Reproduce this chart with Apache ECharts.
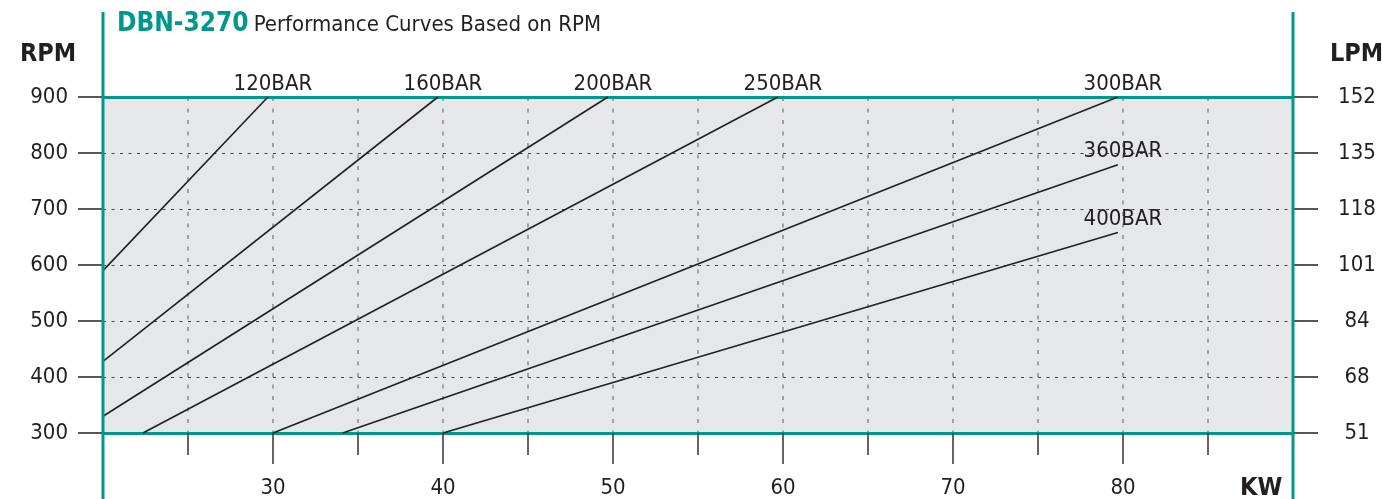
<!DOCTYPE html>
<html>
<head>
<meta charset="utf-8">
<script src="https://cdn.jsdelivr.net/npm/echarts@6/dist/echarts.min.js"></script>
<style>
html,body{margin:0;padding:0;background:#fff;}
#chart{width:1382px;height:499px;}
</style>
</head>
<body>
<div id="chart"></div>
<script>
// ---- data ----
const seriesNames = ['120BAR','160BAR','200BAR','250BAR','300BAR','360BAR','400BAR'];
const bar120 = [[20,590],[29.7,900]];
const bar160 = [[20,428],[39.7,900]];
const bar200 = [[20,330],[49.7,900]];
const bar250 = [[22.35,300],[59.7,900]];
const bar300 = [[30,300],[79.7,900]];
const bar360 = [[34.1,300],[79.7,779]];
const bar400 = [[40,300],[79.7,658]];
const seriesData = [bar120,bar160,bar200,bar250,bar300,bar360,bar400];
const rpmTicks = [300,400,500,600,700,800,900];
const lpmLabels = ['51','68','84','101','118','135','152'];
const kwMin = 20, kwMax = 90;

const FONT = "'DejaVu Sans Condensed','Liberation Sans Narrow','Roboto Condensed',sans-serif";
const TEAL = '#00978c';
const INK = '#231f20';

const chart = echarts.init(document.getElementById('chart'));

const series = seriesData.map((d, i) => ({
  type: 'line',
  name: seriesNames[i],
  xAxisIndex: 0,
  yAxisIndex: 0,
  symbol: 'circle',
  symbolSize: 0,
  showSymbol: true,
  lineStyle: {color: INK, width: 1.6},
  itemStyle: {color: INK},
  z: 3,
  data: d.map((p, j) => j === d.length - 1 ? {
    value: p,
    label: {
      show: true, position: 'top', distance: 2, offset: [5, 0],
      formatter: seriesNames[i], fontFamily: FONT, fontSize: 22, color: INK
    }
  } : {value: p})
}));

const option = {
  animation: false,
  backgroundColor: '#ffffff',
  title: [
    {
      left: 117, top: 11, padding: 0,
      text: '{a|DBN-3270} {b|Performance Curves Based on RPM}',
      textStyle: {
        rich: {
          a: {fontFamily: FONT, fontWeight: 'bold', fontSize: 26, color: TEAL, verticalAlign: 'bottom'},
          b: {fontFamily: FONT, fontWeight: 'normal', fontSize: 22, color: INK, verticalAlign: 'bottom', padding: [0, 0, 1, 0]}
        }
      }
    },
    {left: 20, top: 42, padding: 0, text: 'RPM', textStyle: {fontFamily: FONT, fontWeight: 'bold', fontSize: 25, color: INK}},
    {left: 1330, top: 42, padding: 0, text: 'LPM', textStyle: {fontFamily: FONT, fontWeight: 'bold', fontSize: 25, color: INK}},
    {left: 1240, top: 476, padding: 0, text: 'KW', textStyle: {fontFamily: FONT, fontWeight: 'bold', fontSize: 25, color: INK}}
  ],
  grid: {
    left: 103, right: 89, top: 97, bottom: 65,
    show: true, backgroundColor: '#e6e7e9', borderWidth: 0
  },
  xAxis: [
    { // major: labels, long ticks, teal base line
      type: 'value', position: 'bottom', min: kwMin, max: kwMax, interval: 10,
      axisLine: {show: true, lineStyle: {color: TEAL, width: 3}},
      axisTick: {show: true, length: 31, lineStyle: {color: '#333', width: 1.5}},
      axisLabel: {
        show: true, margin: 44, fontFamily: FONT, fontSize: 22, color: INK,
        showMinLabel: false, showMaxLabel: false
      },
      splitLine: {show: false}
    },
    { // minor: short ticks and dotted vertical grid
      type: 'value', position: 'bottom', min: kwMin, max: kwMax, interval: 5,
      axisLine: {show: false},
      axisTick: {show: true, length: 22, lineStyle: {color: '#333', width: 1.5}},
      axisLabel: {show: false},
      splitLine: {show: true, lineStyle: {color: '#8a8a8a', width: 1.5, type: [4, 7.5]}}
    },
    { // top teal line
      type: 'value', position: 'top', min: kwMin, max: kwMax, interval: 10,
      axisLine: {show: true, lineStyle: {color: TEAL, width: 3}},
      axisTick: {show: false}, axisLabel: {show: false}, splitLine: {show: false}
    }
  ],
  yAxis: [
    {
      type: 'value', position: 'left', min: rpmTicks[0], max: rpmTicks[rpmTicks.length - 1], interval: 100,
      axisLine: {show: false},
      axisTick: {show: true, length: 25, lineStyle: {color: INK, width: 1.5}},
      axisLabel: {margin: 35, fontFamily: FONT, fontSize: 22, color: INK},
      splitLine: {show: true, lineStyle: {color: '#444', width: 1, type: [3, 5.5]}}
    },
    {
      type: 'value', position: 'right', min: rpmTicks[0], max: rpmTicks[rpmTicks.length - 1], interval: 100,
      axisLine: {show: false},
      axisTick: {show: true, length: 25, lineStyle: {color: INK, width: 1.5}},
      axisLabel: {
        margin: 64, align: 'center', fontFamily: FONT, fontSize: 22, color: INK,
        formatter: v => lpmLabels[rpmTicks.indexOf(v)]
      },
      splitLine: {show: false}
    }
  ],
  series: series
};

chart.setOption(option);

// teal vertical frame lines extending above and below the plot
const xl = chart.convertToPixel({xAxisIndex: 0}, kwMin);
const xr = chart.convertToPixel({xAxisIndex: 0}, kwMax);
chart.setOption({
  graphic: [
    {type: 'line', z: 100, shape: {x1: xl, y1: 12, x2: xl, y2: 499}, style: {stroke: TEAL, lineWidth: 3}},
    {type: 'line', z: 100, shape: {x1: xr, y1: 12, x2: xr, y2: 499}, style: {stroke: TEAL, lineWidth: 3}}
  ]
});
</script>
</body>
</html>
